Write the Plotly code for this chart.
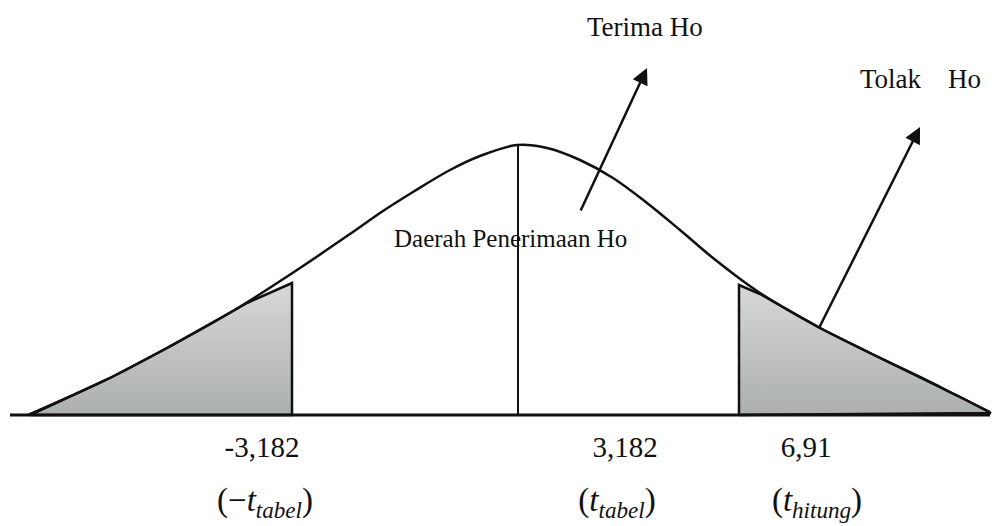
import plotly.graph_objects as go

# Bell curve (horizontal position, height above baseline)
curve_x = [28, 60, 110, 167, 233, 300, 350, 383, 413, 450, 480, 517, 547, 580, 613, 647, 680, 713, 760, 820, 870, 920, 960, 990]
curve_y = [0, 14, 37, 67, 104, 147, 181, 204, 223, 245, 259, 270, 267, 255, 237, 212, 185, 157, 122, 87, 62, 38, 18, 3]

# Left rejection region (-t tabel)
left_x = [30, 60, 110, 167, 233, 247, 292, 292, 30]
left_y = [0, 14, 37, 67, 104, 112, 132, 0, 0]

# Right rejection region (t hitung)
right_x = [739, 739, 760, 820, 870, 920, 960, 991, 739]
right_y = [0, 130, 121, 87, 62, 38, 18, 2, 0]

# Baseline and centre line
base_x = [10, 990]
base_y = [0, 0]
center_x = [518, 518]
center_y = [0, 270]

# Labels
value_labels = ["-3,182", "3,182", "6,91"]
value_x = [262, 625, 806]
value_y = [-35, -35, -35]
sym_labels = ["(−<i>t</i><sub><i>tabel</i></sub>)", "(<i>t</i><sub><i>tabel</i></sub>)", "(<i>t</i><sub><i>hitung</i></sub>)"]
sym_x = [265, 617, 817]
sym_y = [-88, -88, -88]

# Arrows: (tail_x, tail_y, head_x, head_y)
arrow_terima = (580, 203, 647, 347)
arrow_tolak = (818, 85, 920, 288)

FONT = "Liberation Serif, Times New Roman, serif"
INK = "#111111"

fig = go.Figure()

grad = dict(type="vertical", colorscale=[[0, "#abafae"], [1, "#d6d9d8"]])

fig.add_trace(go.Scatter(x=left_x, y=left_y, mode="lines", fill="toself",
                         fillgradient=grad,
                         line=dict(color=INK, width=2.5), hoverinfo="skip"))
fig.add_trace(go.Scatter(x=right_x, y=right_y, mode="lines", fill="toself",
                         fillgradient=grad,
                         line=dict(color=INK, width=2.5), hoverinfo="skip"))
fig.add_trace(go.Scatter(x=curve_x, y=curve_y, mode="lines", line_shape="spline",
                         line=dict(color=INK, width=2.5), hoverinfo="skip"))
fig.add_trace(go.Scatter(x=base_x, y=base_y, mode="lines",
                         line=dict(color=INK, width=3), hoverinfo="skip"))
fig.add_trace(go.Scatter(x=center_x, y=center_y, mode="lines",
                         line=dict(color=INK, width=2), hoverinfo="skip"))

fig.add_trace(go.Scatter(x=value_x, y=value_y, mode="text", text=value_labels,
                         textfont=dict(family=FONT, size=29, color=INK), hoverinfo="skip"))
fig.add_trace(go.Scatter(x=sym_x, y=sym_y, mode="text", text=sym_labels,
                         textfont=dict(family=FONT, size=33, color=INK), hoverinfo="skip"))

fig.add_annotation(x=510, y=177, text="Daerah Penerimaan Ho", showarrow=False,
                   font=dict(family=FONT, size=25, color=INK))
fig.add_annotation(x=645, y=388, text="Terima Ho", showarrow=False,
                   font=dict(family=FONT, size=27, color=INK))
fig.add_annotation(x=920, y=336, text="Tolak&nbsp;&nbsp;&nbsp;&nbsp;Ho", showarrow=False,
                   font=dict(family=FONT, size=27, color=INK))

for tx, ty, hx, hy in (arrow_terima, arrow_tolak):
    fig.add_annotation(x=hx, y=hy, ax=tx, ay=ty, xref="x", yref="y", axref="x", ayref="y",
                       text="", showarrow=True, arrowhead=2, arrowsize=1.3,
                       arrowwidth=2.5, arrowcolor=INK)

fig.update_layout(
    width=993, height=526,
    margin=dict(l=0, r=0, t=0, b=0),
    paper_bgcolor="white", plot_bgcolor="white",
    showlegend=False,
    xaxis=dict(range=[0, 993], visible=False, fixedrange=True),
    yaxis=dict(range=[-111, 415], visible=False, fixedrange=True),
)

fig.write_html("out.html", config={"displayModeBar": False},
               post_script="document.body.style.margin='0';document.body.style.overflow='hidden';")
